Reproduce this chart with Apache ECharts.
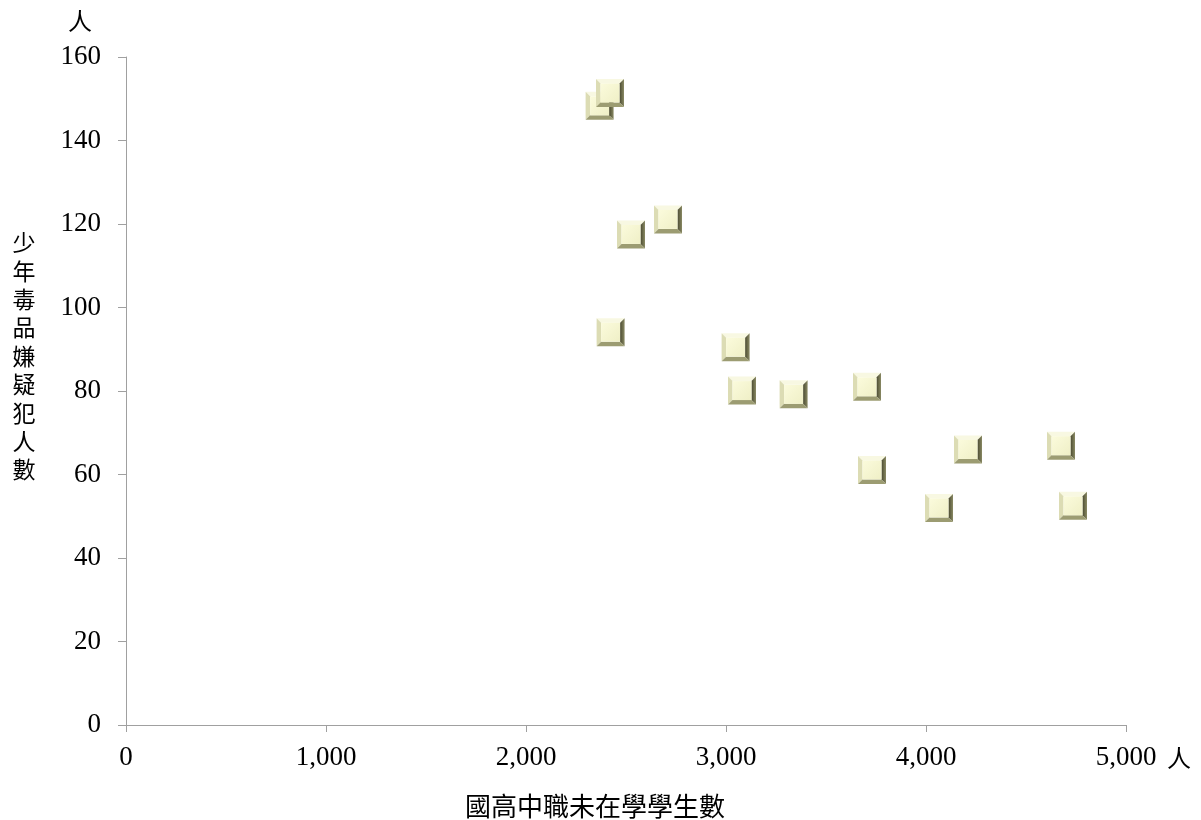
<!DOCTYPE html>
<html>
<head>
<meta charset="utf-8">
<script src="https://cdn.jsdelivr.net/npm/echarts@6/dist/echarts.min.js"></script>
<style>html,body{margin:0;padding:0;background:#fff}#c{width:1201px;height:820px}</style>
</head>
<body>
<div id="c"></div>
<script>
// 國高中職未在學學生數 (x) vs 少年毒品嫌疑犯人數 (y)
const students = [2368, 2420, 2525, 2710, 2423, 3048, 3080, 3338, 3705, 3730, 4210, 4065, 4675, 4735];
const suspects = [148.3, 151.4, 117.5, 121.1, 94.1, 90.5, 80.1, 79.2, 81.0, 61.1, 66.0, 52.0, 66.9, 52.5];
const xTicks = [0, 1000, 2000, 3000, 4000, 5000];
const yTicks = [0, 20, 40, 60, 80, 100, 120, 140, 160];
const xName = '國高中職未在學學生數';
const yName = '少年毒品嫌疑犯人數';
const unit = '人';

const data = students.map((v, i) => [v, suspects[i]]);
const serif = '"Liberation Serif", "DejaVu Serif", serif';
const cjk = '"Noto Sans CJK TC", "Noto Sans CJK SC", sans-serif';

function renderItem(params, api) {
  const p = api.coord([api.value(0), api.value(1)]);
  const h = 14, i = 9.5;
  const x = p[0], y = p[1];
  const O = [[x - h, y - h], [x + h, y - h], [x + h, y + h], [x - h, y + h]];
  const I = [[x - i, y - i], [x + i, y - i], [x + i, y + i], [x - i, y + i]];
  const face = (pts, fill) => ({ type: 'polygon', shape: { points: pts }, style: { fill: fill, stroke: null } });
  return {
    type: 'group',
    children: [
      face([O[0], O[1], I[1], I[0]], '#f8f8e2'),
      face([O[0], I[0], I[3], O[3]], '#dcdcb4'),
      face([O[1], O[2], I[2], I[1]], new echarts.graphic.LinearGradient(0, 0, 1, 0, [
        { offset: 0, color: '#4a4a30' }, { offset: 1, color: '#8a8a64' }
      ])),
      face([O[3], I[3], I[2], O[2]], '#9c9c72'),
      face(I, new echarts.graphic.LinearGradient(0, 0, 1, 1, [
        { offset: 0, color: '#fbfbdc' }, { offset: 1, color: '#efefc6' }
      ]))
    ]
  };
}

const chart = echarts.init(document.getElementById('c'), null, { renderer: 'canvas' });
chart.setOption({
  animation: false,
  backgroundColor: '#fff',
  grid: { left: 126, right: 75, top: 57, bottom: 95, containLabel: false },
  xAxis: {
    type: 'value', min: xTicks[0], max: xTicks[xTicks.length - 1], interval: 1000,
    splitLine: { show: false },
    axisLine: { show: true, onZero: false, lineStyle: { color: '#a0a0a0', width: 1 } },
    axisTick: { show: true, length: 7, lineStyle: { color: '#a0a0a0' } },
    axisLabel: {
      margin: 19, color: '#000', fontFamily: serif, fontSize: 27,
      formatter: v => v.toLocaleString('en-US')
    }
  },
  yAxis: {
    type: 'value', min: yTicks[0], max: yTicks[yTicks.length - 1], interval: 20,
    splitLine: { show: false },
    axisLine: { show: true, onZero: false, lineStyle: { color: '#a0a0a0', width: 1 } },
    axisTick: { show: true, length: 8, lineStyle: { color: '#a0a0a0' } },
    axisLabel: { margin: 25, color: '#000', fontFamily: serif, fontSize: 27 }
  },
  graphic: [
    { type: 'text', left: 68, top: 9, style: { text: unit, font: '24px ' + cjk, fill: '#000' } },
    { type: 'text', left: 1167, top: 746, style: { text: unit, font: '24px ' + cjk, fill: '#000' } },
    { type: 'text', x: 595, y: 806, style: { text: xName, font: '26px ' + cjk, fill: '#000', align: 'center', verticalAlign: 'middle' } },
    { type: 'text', x: 24, y: 356, style: { text: yName.split('').join('\n'), font: '23px ' + cjk, lineHeight: 28.4, fill: '#000', align: 'center', verticalAlign: 'middle' } }
  ],
  series: [{
    type: 'custom',
    renderItem: renderItem,
    encode: { x: 0, y: 1 },
    data: data,
    clip: false
  }]
});
</script>
</body>
</html>
